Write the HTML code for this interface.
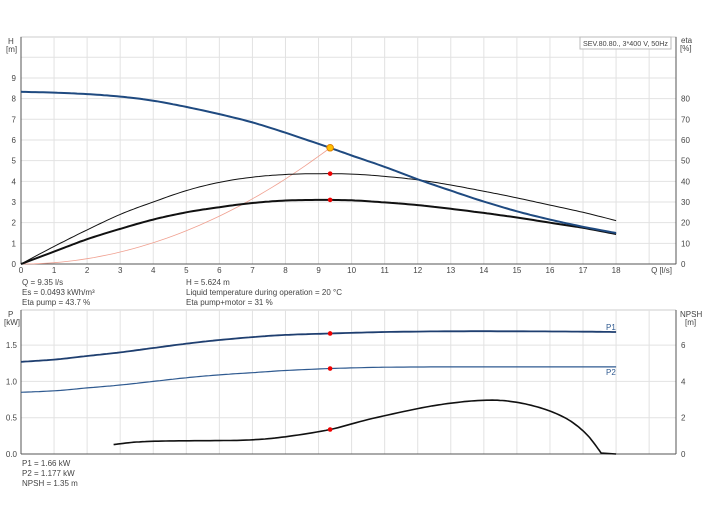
<!DOCTYPE html><html><head><style>body{margin:0;background:#fff}svg{display:block;font-family:"Liberation Sans",sans-serif}</style></head><body>
<svg id="s" width="704" height="528" viewBox="0 0 704 528" xmlns="http://www.w3.org/2000/svg"></svg>
<script>
const s=document.getElementById('s');let h='';
const X=q=>21+q*33.06, Y1=v=>264-v*20.67, Y2=v=>454-v*72.6, YN=v=>454-v*18.15;
h+='<rect x="21" y="37" width="655" height="227" fill="#fff" stroke="#ccc"/>';
for(let i=1;i<=19;i++)h+=`<line x1="${X(i)}" y1="37" x2="${X(i)}" y2="264" stroke="#e2e2e2"/>`;
for(let i=1;i<=10;i++)h+=`<line x1="21" y1="${Y1(i)}" x2="676" y2="${Y1(i)}" stroke="#e2e2e2"/>`;
h+='<line x1="21" y1="37" x2="21" y2="264" stroke="#555"/><line x1="21" y1="264" x2="676" y2="264" stroke="#555"/><line x1="676" y1="37" x2="676" y2="264" stroke="#555"/>';
for(let i=0;i<=9;i++)h+=`<text x="16" y="${Y1(i)+3}" font-size="8" fill="#444" text-anchor="end">${i}</text>`;
for(let i=0;i<=8;i++)h+=`<text x="681" y="${Y1(i)+3}" font-size="8" fill="#444">${i*10}</text>`;
for(let i=0;i<=18;i++)h+=`<text x="${X(i)}" y="273" font-size="8" fill="#444" text-anchor="middle">${i}</text>`;
h+='<text x="672" y="273" font-size="8" fill="#444" text-anchor="end">Q [l/s]</text>';
h+='<text x="8" y="44" font-size="8" fill="#444">H</text><text x="6" y="52" font-size="8" fill="#444">[m]</text>';
h+='<text x="681" y="43" font-size="8" fill="#444">eta</text><text x="680" y="51" font-size="8" fill="#444">[%]</text>';
h+='<rect x="580" y="37" width="91" height="12" fill="#fff" stroke="#bbb"/><text x="583" y="46" font-size="7.3" fill="#444" textLength="85" lengthAdjust="spacingAndGlyphs">SEV.80.80., 3*400 V, 50Hz</text>';
function P(pts,Yf){return pts.map((p,i)=>(i?'L':'M')+X(p[0]).toFixed(1)+','+Yf(p[1]).toFixed(1)).join('')}
function spl(pts){let o=[];for(let i=0;i<pts.length-1;i++){const p0=pts[Math.max(0,i-1)],p1=pts[i],p2=pts[i+1],p3=pts[Math.min(pts.length-1,i+2)];for(let t=0;t<1;t+=0.1){const t2=t*t,t3=t2*t;const f=(a,b,c,d)=>0.5*(2*b+(-a+c)*t+(2*a-5*b+4*c-d)*t2+(-a+3*b-3*c+d)*t3);o.push([f(p0[0],p1[0],p2[0],p3[0]),f(p0[1],p1[1],p2[1],p3[1])])}}o.push(pts[pts.length-1]);return o}
let sys=[];for(let q=0;q<=9.35;q+=0.2)sys.push([q,5.624*(q/9.35)**2]);sys.push([9.35,5.624]);
h+=`<path d="${P(sys,Y1)}" fill="none" stroke="#f0a090" stroke-width="0.8"/>`;
const eta=[[0,0],[1,0.85],[2,1.65],[3,2.4],[4,3.0],[5,3.55],[6,3.95],[7,4.2],[8,4.33],[9,4.37],[10,4.35],[11,4.24],[12,4.07],[13,3.82],[14,3.52],[15,3.2],[16,2.85],[17,2.5],[18,2.1]];
h+=`<path d="${P(spl(eta),Y1)}" fill="none" stroke="#111" stroke-width="1"/>`;
const etm=[[0,0],[1,0.6],[2,1.2],[3,1.7],[4,2.15],[5,2.5],[6,2.75],[7,2.95],[8,3.07],[9,3.1],[10,3.08],[11,2.98],[12,2.85],[13,2.67],[14,2.47],[15,2.25],[16,2.0],[17,1.75],[18,1.45]];
h+=`<path d="${P(spl(etm),Y1)}" fill="none" stroke="#111" stroke-width="2"/>`;
const H=[[0,8.33],[1,8.29],[2,8.22],[3,8.1],[4,7.9],[5,7.6],[6,7.25],[7,6.85],[8,6.35],[9.35,5.62],[10,5.25],[11,4.7],[12,4.1],[13,3.55],[14,3.02],[15,2.55],[16,2.15],[17,1.8],[18,1.5]];
h+=`<path d="${P(spl(H),Y1)}" fill="none" stroke="#1f4a80" stroke-width="2"/>`;
h+=`<circle cx="${X(9.35)}" cy="${Y1(5.624)}" r="3.3" fill="#ffc000" stroke="#e08000"/>`;
h+=`<circle cx="${X(9.35)}" cy="${Y1(4.37)}" r="2.3" fill="#e00"/><circle cx="${X(9.35)}" cy="${Y1(3.1)}" r="2.3" fill="#e00"/>`;
const t=(x,y,s)=>h+=`<text x="${x}" y="${y}" font-size="8" fill="#444">${s}</text>`;
t(22,285,'Q = 9.35 l/s');t(22,295,'Es = 0.0493 kWh/m³');t(22,305,'Eta pump = 43.7 %');
t(186,285,'H = 5.624 m');t(186,295,'Liquid temperature during operation = 20 °C');t(186,305,'Eta pump+motor = 31 %');
h+='<line x1="21" y1="310" x2="676" y2="310" stroke="#ccc"/>';
for(let i=1;i<=19;i++)h+=`<line x1="${X(i)}" y1="310" x2="${X(i)}" y2="454" stroke="#e2e2e2"/>`;
for(let v=0.5;v<=1.5;v+=0.5)h+=`<line x1="21" y1="${Y2(v)}" x2="676" y2="${Y2(v)}" stroke="#e2e2e2"/>`;
h+='<line x1="21" y1="310" x2="21" y2="454" stroke="#555"/><line x1="21" y1="454" x2="676" y2="454" stroke="#555"/><line x1="676" y1="310" x2="676" y2="454" stroke="#555"/>';
['0.0','0.5','1.0','1.5'].forEach((l,i)=>h+=`<text x="17" y="${Y2(i*0.5)+3}" font-size="8" fill="#444" text-anchor="end">${l}</text>`);
[0,2,4,6].forEach(v=>h+=`<text x="681" y="${YN(v)+3}" font-size="8" fill="#444">${v}</text>`);
h+='<text x="8" y="317" font-size="8" fill="#444">P</text><text x="4" y="325" font-size="8" fill="#444">[kW]</text>';
h+='<text x="680" y="317" font-size="8" fill="#444">NPSH</text><text x="685" y="325" font-size="8" fill="#444">[m]</text>';
const P1=[[0,1.27],[1,1.3],[2,1.35],[3,1.4],[4,1.46],[5,1.52],[6,1.57],[7,1.61],[8,1.64],[9.35,1.66],[11,1.68],[13,1.69],[15,1.69],[17,1.685],[18,1.68]];
h+=`<path d="${P(spl(P1),Y2)}" fill="none" stroke="#1f3f70" stroke-width="1.8"/>`;
const P2=[[0,0.85],[1,0.87],[2,0.91],[3,0.95],[4,1.0],[5,1.05],[6,1.09],[7,1.12],[8,1.15],[9.35,1.177],[11,1.195],[13,1.2],[15,1.2],[18,1.2]];
h+=`<path d="${P(spl(P2),Y2)}" fill="none" stroke="#2f5a90" stroke-width="1.2"/>`;
const N=[[2.8,0.52],[3.5,0.66],[4.5,0.72],[6,0.74],[7,0.78],[8,0.95],[9.35,1.35],[10.5,1.9],[12,2.5],[13,2.8],[14,2.96],[14.8,2.9],[15.7,2.55],[16.5,1.95],[17.1,1.1],[17.55,0.05]];
h+=`<path d="${P(spl(N),YN)}L${X(18)},${YN(0)}" fill="none" stroke="#111" stroke-width="1.6"/>`;
h+=`<circle cx="${X(9.35)}" cy="${Y2(1.66)}" r="2.3" fill="#e00"/><circle cx="${X(9.35)}" cy="${Y2(1.177)}" r="2.3" fill="#e00"/><circle cx="${X(9.35)}" cy="${YN(1.35)}" r="2.3" fill="#e00"/>`;
h+='<text x="606" y="330" font-size="8" fill="#2f5a90">P1</text><text x="606" y="375" font-size="8" fill="#2f5a90">P2</text>';
t(22,466,'P1 = 1.66 kW');t(22,476,'P2 = 1.177 kW');t(22,486,'NPSH = 1.35 m');
s.innerHTML=h;
</script></body></html>
